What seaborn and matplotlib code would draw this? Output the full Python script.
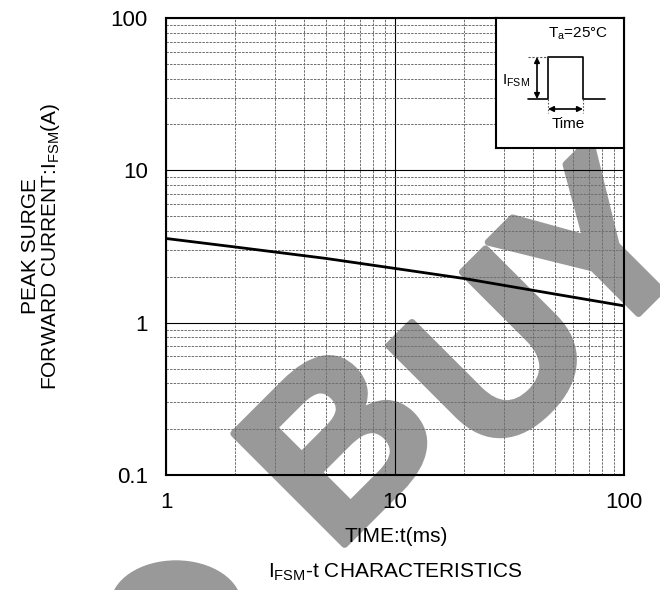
import matplotlib
matplotlib.use("Agg")
import numpy as np
import pandas as pd
import seaborn as sns
import matplotlib.pyplot as plt
import matplotlib.patheffects as pe
from matplotlib.patches import Ellipse, FancyArrowPatch
from matplotlib.ticker import FixedLocator, LogLocator, NullFormatter

# ---- data ----
time_ms = [1, 2, 5, 10, 20, 50, 100]
ifsm_a = [3.57, 3.14, 2.64, 2.27, 1.95, 1.54, 1.29]
x_ticks = [1, 10, 100]
x_tick_labels = ["1", "10", "100"]
y_ticks = [0.1, 1, 10, 100]
y_tick_labels = ["0.1", "1", "10", "100"]
x_label = "TIME:t(ms)"
y_label_top = "PEAK SURGE"
y_label_bottom = r"FORWARD CURRENT:$\mathregular{I_{FSM}}$(A)"
caption = r"$\mathregular{I_{FSM}}$-t CHARACTERISTICS"
inset_temp = r"$\mathregular{T_a}$=25°C"
inset_amp = r"$\mathregular{I_{FSM}}$"
inset_time = "Time"
watermark_letters = ["B", "U", "Y"]

sns.set_theme(style="white")
plt.rcParams['font.family'] = ['Liberation Sans', 'DejaVu Sans']
plt.rcParams['mathtext.default'] = 'regular'

W, H = 660, 590
fig = plt.figure(figsize=(W / 100, H / 100), dpi=100)
fig.patch.set_facecolor('white')

def fx(px):
    return px / W

def fy(py):
    return 1 - py / H

# ---- watermark (behind the chart) ----
wm_color = '#999999'
wm_pos = [(392, 497), (548, 408), (650, 302)]
for letter, (px, py) in zip(watermark_letters, wm_pos):
    fig.text(fx(px), fy(py), letter, rotation=45, rotation_mode='anchor',
             ha='center', va='baseline', fontsize=164, fontweight='bold',
             color=wm_color, zorder=-2, family='Liberation Sans',
             path_effects=[pe.withStroke(linewidth=5, foreground=wm_color,
                                         capstyle='round')])
fig.patches.append(Ellipse((fx(176), fy(605)), 130 / W, 88 / H,
                           transform=fig.transFigure, color=wm_color,
                           zorder=-2))

# ---- main axes ----
ax = fig.add_axes([fx(166), fy(475), (624 - 166) / W, (475 - 18) / H])
ax.set_facecolor('none')
df = pd.DataFrame({'t': time_ms, 'i': ifsm_a})
sns.lineplot(data=df, x='t', y='i', ax=ax, color='black', linewidth=2.0,
             zorder=5)
ax.set_xscale('log')
ax.set_yscale('log')
ax.set_xlim(1, 100)
ax.set_ylim(0.1, 100)
ax.xaxis.set_major_locator(FixedLocator(x_ticks))
ax.yaxis.set_major_locator(FixedLocator(y_ticks))
ax.set_xticklabels(x_tick_labels)
ax.set_yticklabels(y_tick_labels)
ax.xaxis.set_minor_locator(LogLocator(base=10, subs=range(2, 10)))
ax.yaxis.set_minor_locator(LogLocator(base=10, subs=range(2, 10)))
ax.xaxis.set_minor_formatter(NullFormatter())
ax.yaxis.set_minor_formatter(NullFormatter())
ax.grid(which='major', color='black', linewidth=0.8, linestyle='-')
ax.grid(which='minor', color='#6e6e6e', linewidth=0.7, linestyle=(0, (2.5, 1.2)))
ax.set_axisbelow(True)
ax.tick_params(which='both', length=0, labelsize=16, colors='black')
ax.tick_params(axis='x', pad=12)
ax.tick_params(axis='y', pad=13)
for s in ax.spines.values():
    s.set_color('black')
    s.set_linewidth(1.5)
ax.set_xlabel('')
ax.set_ylabel('')

# axis titles
fig.text(fx(396), fy(537), x_label, ha='center', va='center', fontsize=15,
         color='black')
fig.text(fx(395), fy(572), caption, ha='center', va='center', fontsize=15,
         color='black')
fig.text(fx(36), fy(246), y_label_top, rotation=90, rotation_mode='anchor',
         ha='center', va='baseline', fontsize=15, color='black')
fig.text(fx(56), fy(246), y_label_bottom, rotation=90, rotation_mode='anchor',
         ha='center', va='baseline', fontsize=15, color='black')

# ---- inset pulse diagram ----
ins = fig.add_axes([fx(496), fy(148), (624 - 496) / W, (148 - 18) / H],
                   zorder=6)
ins.set_facecolor('white')
ins.set_xlim(496, 624)
ins.set_ylim(148, 18)
ins.set_xticks([])
ins.set_yticks([])
for s in ins.spines.values():
    s.set_color('black')
    s.set_linewidth(1.5)
ins.plot([528, 548, 548, 583, 583, 605], [99, 99, 57, 57, 99, 99],
         color='black', lw=1.2)
ins.plot([528, 548], [57, 57], color='#555555', lw=0.8, ls=(0, (2, 1.5)))
ins.plot([548, 548], [99, 113], color='#555555', lw=0.8, ls=(0, (1.5, 1.5)))
ins.plot([583, 583], [99, 113], color='#555555', lw=0.8, ls=(0, (1.5, 1.5)))
ins.add_patch(FancyArrowPatch((537, 57), (537, 99), arrowstyle='<|-|>',
                              mutation_scale=8, color='black', lw=1.2,
                              shrinkA=0, shrinkB=0))
ins.add_patch(FancyArrowPatch((548, 109), (583, 109), arrowstyle='<|-|>',
                              mutation_scale=8, color='black', lw=1.2,
                              shrinkA=0, shrinkB=0))
ins.text(578, 34, inset_temp, ha='center', va='center', fontsize=11,
         color='black')
ins.text(516, 81, inset_amp, ha='center', va='center', fontsize=11,
         color='black')
ins.text(568, 124.5, inset_time, ha='center', va='center', fontsize=11,
         color='black')

fig.savefig('out.png', dpi=100, facecolor='white')
